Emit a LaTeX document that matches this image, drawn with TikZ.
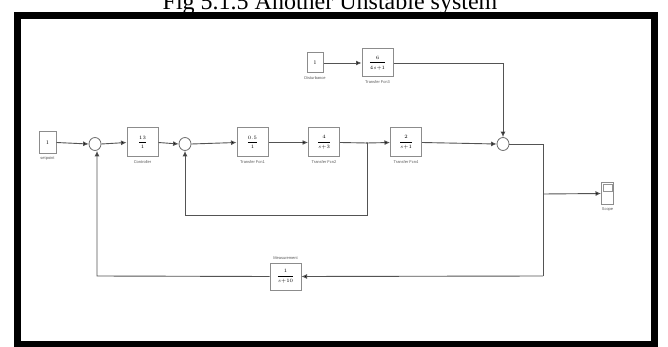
\documentclass[tikz,border=0pt]{standalone}
\usepackage{fontspec}
\setmainfont{Liberation Serif}
\newfontfamily\labfont{Liberation Sans}
\usetikzlibrary{arrows.meta,shapes.geometric}
\begin{document}
\begin{tikzpicture}[x=1pt,y=-1pt,
  blk/.style={draw=gray!90, line width=1pt, fill=white, minimum width=31pt, minimum height=29pt, inner sep=0pt, font=\fontsize{5.5}{6}\selectfont},
  cst/.style={blk, minimum width=17pt, minimum height=22pt},
  sumb/.style={draw=gray!85!black, line width=0.8pt, ellipse, minimum width=12pt, minimum height=13pt, inner sep=0pt},
  lbl/.style={font=\labfont\fontsize{4}{5}\selectfont, text=gray!70!black, inner sep=0.5pt},
  wire/.style={draw=gray!65!black, line width=0.9pt},
  arr/.style={wire, -{Latex[length=5.5pt,width=5pt,fill=black]}}
]
\useasboundingbox (0,0) rectangle (668,347);
\fill[white] (0,0) rectangle (668,347);
% title
\node[font=\fontsize{24}{24}\selectfont, anchor=base, inner sep=0pt] (title) at (330,10) {Fig 5.1.5 Another Unstable system};
% frame
\draw[line width=7pt, miter limit=10] (17,16) rectangle (654,344);

% blocks
\node[cst] (sp) at (47.5,142.5) {1};
\node[lbl, anchor=north, yshift=-2pt] at (sp.south) {setpoint};
\node[sumb] (s1) at (95,144) {};
\node[blk] (ctrl) at (142.5,142.5) {$\displaystyle\frac{13}{1}$};
\node[lbl, anchor=north, yshift=-2pt] at (ctrl.south) {Controller};
\node[sumb] (s2) at (185,144) {};
\node[blk] (tf1) at (252.5,142.5) {$\displaystyle\frac{0.5}{1}$};
\node[lbl, anchor=north, yshift=-2pt] at (tf1.south) {Transfer Fcn1};
\node[blk] (tf2) at (324,142.5) {$\displaystyle\frac{4}{s{+}3}$};
\node[lbl, anchor=north, yshift=-2pt] at (tf2.south) {Transfer Fcn2};
\node[blk] (tf4) at (406,142.5) {$\displaystyle\frac{2}{s{+}1}$};
\node[lbl, anchor=north, yshift=-2pt] at (tf4.south) {Transfer Fcn4};
\node[sumb] (s3) at (503,144) {};
\node[cst, minimum width=16pt, minimum height=20pt] (dist) at (315,63) {1};
\node[lbl, anchor=north, yshift=-2pt] at (dist.south) {Disturbance};
\node[blk, minimum height=28pt] (tf3) at (377.5,63) {$\displaystyle\frac{6}{4s{+}1}$};
\node[lbl, anchor=north, yshift=-2pt] at (tf3.south) {Transfer Fcn3};
\node[blk, minimum height=27pt] (meas) at (285.5,276.5) {$\displaystyle\frac{1}{s{+}10}$};
\node[lbl, anchor=south, yshift=2pt] at (meas.north) {Measurement};
\node[draw=gray!90, line width=1pt, fill=white, minimum width=12pt, minimum height=22pt, inner sep=0pt] (scope) at (607.5,193.5) {};
\draw[gray!85, line width=0.6pt] ([shift={(2,2)}]scope.north west) rectangle ([shift={(-2,9)}]scope.north east);
\node[lbl, anchor=north, yshift=-2pt] at (scope.south) {Scope};

% junctions
\coordinate (b1) at (367,143);
\coordinate (jo) at (543,144);
\coordinate (jscope) at (543,194);
\coordinate (jm) at (543,276);
\coordinate (ib1) at (367,215);
\coordinate (ib2) at (185,215);
\coordinate (ob) at (97,276);
\coordinate (dc) at (503,63);

% main path
\draw[arr] (sp.east) -- (s1.west);
\draw[arr] (s1.east) -- (ctrl.west);
\draw[arr] (ctrl.east) -- (s2.west);
\draw[arr] (s2.east) -- (tf1.west);
\draw[arr] (tf1.east) -- (tf2.west);
\draw[wire] (tf2.east) -- (b1);
\draw[arr] (b1) -- (tf4.west);
\draw[arr] (tf4.east) -- (s3.west);
\fill[gray!60!black] (b1) circle (0.9pt);
% disturbance
\draw[arr] (dist.east) -- (tf3.west);
\draw[arr] (tf3.east) -- (dc) -- (s3.north);
% output
\draw[wire] (s3.east) -- (jo) -- (jm);
\draw[arr] (jscope) -- (scope.west);
% outer feedback
\draw[arr] (jm) -- (meas.east);
\draw[arr] (meas.west) -- (ob) -- (ob |- s1.south);
% inner feedback
\draw[arr] (b1) -- (ib1) -- (ib2) -- (s2.south);
\end{tikzpicture}
\end{document}
